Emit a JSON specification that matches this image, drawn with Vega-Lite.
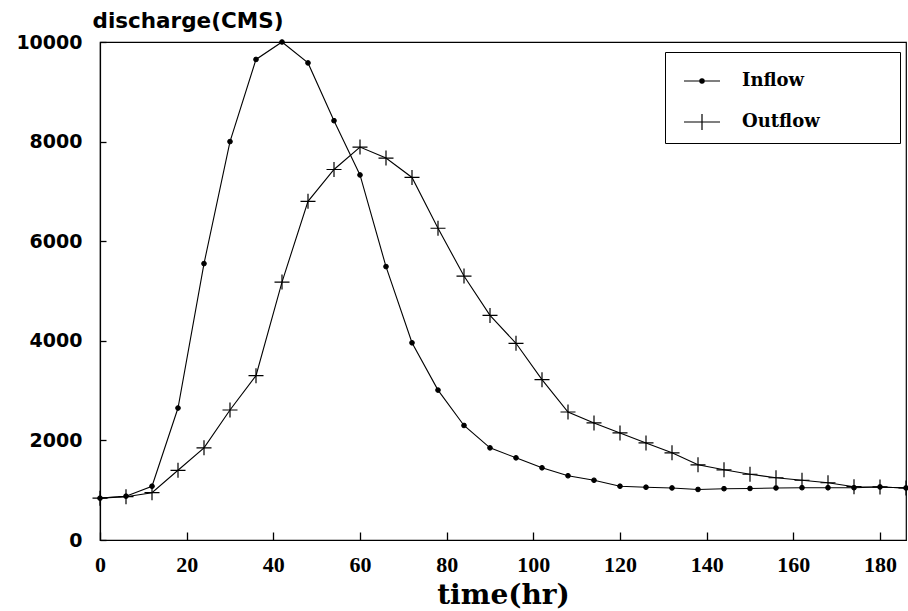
{
  "$schema": "https://vega.github.io/schema/vega-lite/v6.json",
  "autosize": "none",
  "width": 806,
  "height": 498,
  "padding": {"left": 100, "top": 42, "right": 2, "bottom": 71},
  "background": "white",
  "config": {
    "view": {"stroke": "black", "strokeWidth": 1.2},
    "axis": {"grid": false, "domainColor": "black", "tickColor": "black", "labelColor": "black", "titleColor": "black", "domainWidth": 1.2, "tickWidth": 1.3, "zindex": 1}
  },
  "data": {
    "values": [
      {"t": 0, "series": "Inflow", "q": 840},
      {"t": 6, "series": "Inflow", "q": 880},
      {"t": 12, "series": "Inflow", "q": 1080},
      {"t": 18, "series": "Inflow", "q": 2650},
      {"t": 24, "series": "Inflow", "q": 5550},
      {"t": 30, "series": "Inflow", "q": 8000},
      {"t": 36, "series": "Inflow", "q": 9650},
      {"t": 42, "series": "Inflow", "q": 10000},
      {"t": 48, "series": "Inflow", "q": 9580},
      {"t": 54, "series": "Inflow", "q": 8420},
      {"t": 60, "series": "Inflow", "q": 7330},
      {"t": 66, "series": "Inflow", "q": 5490},
      {"t": 72, "series": "Inflow", "q": 3960},
      {"t": 78, "series": "Inflow", "q": 3010},
      {"t": 84, "series": "Inflow", "q": 2300},
      {"t": 90, "series": "Inflow", "q": 1850},
      {"t": 96, "series": "Inflow", "q": 1650},
      {"t": 102, "series": "Inflow", "q": 1450},
      {"t": 108, "series": "Inflow", "q": 1290},
      {"t": 114, "series": "Inflow", "q": 1200},
      {"t": 120, "series": "Inflow", "q": 1080},
      {"t": 126, "series": "Inflow", "q": 1060},
      {"t": 132, "series": "Inflow", "q": 1045},
      {"t": 138, "series": "Inflow", "q": 1015},
      {"t": 144, "series": "Inflow", "q": 1030},
      {"t": 150, "series": "Inflow", "q": 1035},
      {"t": 156, "series": "Inflow", "q": 1045},
      {"t": 162, "series": "Inflow", "q": 1050},
      {"t": 168, "series": "Inflow", "q": 1050},
      {"t": 174, "series": "Inflow", "q": 1050},
      {"t": 180, "series": "Inflow", "q": 1065},
      {"t": 186, "series": "Inflow", "q": 1045},
      {"t": 0, "series": "Outflow", "q": 840},
      {"t": 6, "series": "Outflow", "q": 870},
      {"t": 12, "series": "Outflow", "q": 950},
      {"t": 18, "series": "Outflow", "q": 1400},
      {"t": 24, "series": "Outflow", "q": 1850},
      {"t": 30, "series": "Outflow", "q": 2610},
      {"t": 36, "series": "Outflow", "q": 3300},
      {"t": 42, "series": "Outflow", "q": 5180},
      {"t": 48, "series": "Outflow", "q": 6800},
      {"t": 54, "series": "Outflow", "q": 7440},
      {"t": 60, "series": "Outflow", "q": 7890},
      {"t": 66, "series": "Outflow", "q": 7670},
      {"t": 72, "series": "Outflow", "q": 7280},
      {"t": 78, "series": "Outflow", "q": 6260},
      {"t": 84, "series": "Outflow", "q": 5300},
      {"t": 90, "series": "Outflow", "q": 4510},
      {"t": 96, "series": "Outflow", "q": 3950},
      {"t": 102, "series": "Outflow", "q": 3220},
      {"t": 108, "series": "Outflow", "q": 2570},
      {"t": 114, "series": "Outflow", "q": 2350},
      {"t": 120, "series": "Outflow", "q": 2150},
      {"t": 126, "series": "Outflow", "q": 1950},
      {"t": 132, "series": "Outflow", "q": 1750},
      {"t": 138, "series": "Outflow", "q": 1510},
      {"t": 144, "series": "Outflow", "q": 1410},
      {"t": 150, "series": "Outflow", "q": 1320},
      {"t": 156, "series": "Outflow", "q": 1250},
      {"t": 162, "series": "Outflow", "q": 1200},
      {"t": 168, "series": "Outflow", "q": 1150},
      {"t": 174, "series": "Outflow", "q": 1070},
      {"t": 180, "series": "Outflow", "q": 1065},
      {"t": 186, "series": "Outflow", "q": 1045}
    ]
  },
  "encoding": {
    "x": {
      "field": "t", "type": "quantitative",
      "scale": {"domain": [0, 186], "nice": false, "zero": false},
      "axis": {
        "values": [0, 20, 40, 60, 80, 100, 120, 140, 160, 180],
        "title": "time(hr)",
        "titleFont": "DejaVu Serif", "titleFontSize": 28, "titleFontWeight": "bold",
        "titleBaseline": "alphabetic", "titleY": 63,
        "labelFont": "Liberation Serif", "labelFontSize": 22, "labelFontWeight": "bold",
        "labelPadding": 22, "ticks": true, "tickSize": -8, "labelFlush": false
      }
    },
    "y": {
      "field": "q", "type": "quantitative",
      "scale": {"domain": [0, 10000], "nice": false},
      "axis": {
        "values": [0, 2000, 4000, 6000, 8000, 10000],
        "format": "d",
        "title": "discharge(CMS)",
        "titleAngle": 0, "titleAlign": "left", "titleBaseline": "alphabetic",
        "titleX": -8, "titleY": -15,
        "titleFont": "DejaVu Sans", "titleFontSize": 21.5, "titleFontWeight": "bold",
        "labelFont": "DejaVu Sans", "labelFontSize": 19, "labelFontWeight": "bold",
        "labelPadding": 24, "ticks": true, "tickSize": -6, "labelFlush": false
      }
    }
  },
  "layer": [
    {
      "mark": {"type": "line", "strokeWidth": 1.1},
      "encoding": {
        "color": {
          "field": "series", "type": "nominal",
          "scale": {"domain": ["Inflow", "Outflow"], "range": ["black", "black"]},
          "legend": {
            "title": null,
            "orient": "none",
            "legendX": 565,
            "legendY": 10,
            "padding": 10,
            "strokeColor": "black",
            "fillColor": "white",
            "symbolSize": 1300,
            "symbolOffset": 8,
            "labelOffset": 21,
            "rowPadding": 13,
            "labelFont": "DejaVu Serif",
            "labelFontSize": 18,
            "labelFontWeight": "bold",
            "labelColor": "black",
            "labelExpr": "datum.label + '\u2800\u2800\u2800\u2800\u2800'",
            "encode": {
              "symbols": {
                "update": {
                  "shape": {"signal": "datum.value === 'Inflow' ? 'M-1,0L1,0M-0.12,0A0.12,0.12 0 1,0 0.12,0A0.12,0.12 0 1,0 -0.12,0' : 'M-1,0L1,0M0,-0.45L0,0.45'"},
                  "fill": {"value": "black"},
                  "stroke": {"value": "black"},
                  "strokeWidth": {"value": 1.2},
                  "opacity": {"value": 1}
                }
              }
            }
          }
        }
      }
    },
    {
      "transform": [{"filter": "datum.series === 'Inflow'"}],
      "mark": {"type": "point", "shape": "circle", "size": 22, "filled": true, "fill": "black", "stroke": "black", "strokeWidth": 1, "opacity": 1}
    },
    {
      "transform": [{"filter": "datum.series === 'Outflow'"}],
      "mark": {"type": "point", "shape": "M-1,0L1,0M0,-1L0,1", "size": 225, "filled": false, "stroke": "black", "strokeWidth": 1.2, "opacity": 1}
    }
  ]
}
